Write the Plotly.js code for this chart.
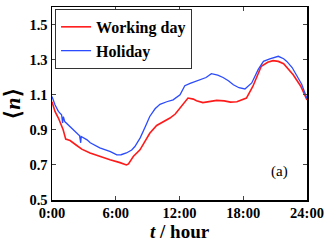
<!DOCTYPE html>
<html><head><meta charset="utf-8">
<script src="https://cdn.plot.ly/plotly-3.0.1.min.js"></script>
<style>html,body{margin:0;padding:0;background:#fff;}#chart{width:327px;height:242px;}</style>
</head><body><div id="chart"></div>
<script>
// Working day: hour of day, mean <n>
const workHours = [0,0.28,0.6,0.9,1.05,1.29,1.7,2.3,2.8,3.58,4.5,5.46,6.4,7.0,7.2,7.65,8.28,8.75,9.2,9.85,10.5,11.1,11.6,12.05,12.5,12.8,13.3,13.6,14.2,14.8,15.5,16.2,16.8,17.4,18.3,18.9,19.7,20.3,20.8,21.3,21.8,22.7,23.4,24];
const workValues = [1.06,1.005,0.967,0.929,0.9,0.847,0.839,0.812,0.79,0.768,0.748,0.729,0.713,0.700,0.706,0.748,0.786,0.83,0.88,0.925,0.945,0.967,0.99,1.025,1.06,1.081,1.075,1.066,1.055,1.06,1.068,1.065,1.058,1.06,1.081,1.147,1.262,1.285,1.294,1.29,1.277,1.214,1.15,1.07];
// Holiday
const holiHours = [0,0.28,0.6,0.9,1.0,1.07,1.2,1.7,2.2,2.6,2.7,2.75,3.3,3.6,4.5,5.5,6.1,6.5,7.0,7.5,7.8,8.3,8.8,9.2,9.7,10.16,10.8,11.4,12.05,12.5,13.0,13.9,14.5,15.0,15.6,16.1,16.6,17.07,17.6,18.16,18.8,19.4,19.9,20.5,21.3,21.8,22.1,22.6,23.0,23.5,24];
const holiValues = [1.09,1.043,1.005,0.986,0.94,0.975,0.947,0.919,0.89,0.866,0.826,0.862,0.843,0.826,0.797,0.776,0.757,0.758,0.768,0.785,0.805,0.854,0.92,0.976,1.02,1.045,1.06,1.071,1.10,1.151,1.165,1.186,1.198,1.22,1.212,1.198,1.18,1.157,1.14,1.133,1.167,1.243,1.29,1.304,1.319,1.305,1.29,1.255,1.214,1.16,1.078];
const seriesNames = ['Working day','Holiday'];
const xTickVals = [0,6,12,18,24];
const xTickText = ['0:00','6:00','12:00','18:00','24:00'];
const yTickVals = [0.5,0.7,0.9,1.1,1.3,1.5];

const serif = 'Times New Roman, Liberation Serif, serif';
const traces = [
  {x: workHours, y: workValues, name: seriesNames[0], mode:'lines', line:{color:'#ff1a1a', width:1.6}},
  {x: holiHours, y: holiValues, name: seriesNames[1], mode:'lines', line:{color:'#2b4bff', width:1.3}}
];
const layout = {
  width:327, height:242,
  margin:{l:52, r:20, t:7, b:42},
  paper_bgcolor:'#fff', plot_bgcolor:'#fff',
  font:{family:serif, color:'#000'},
  showlegend:true,
  legend:{x:0.012, y:0.99, xanchor:'left', yanchor:'top', bgcolor:'#fff', bordercolor:'#333', borderwidth:1,
    font:{family:serif, size:16, weight:700, color:'#000'}, tracegroupgap:0},
  xaxis:{range:[0,24], tickvals:xTickVals, ticktext:xTickText, ticks:'inside', ticklen:4, tickwidth:1,
    showline:true, linecolor:'#000', linewidth:1.5, mirror:'ticks', showgrid:false, zeroline:false,
    ticklabelstandoff:-1,
    tickfont:{family:serif, size:14.5, weight:700}},
  yaxis:{range:[0.5,1.6], tickvals:yTickVals, ticks:'inside', ticklen:4, tickwidth:1,
    showline:true, linecolor:'#000', linewidth:1.5, mirror:'ticks', showgrid:false, zeroline:false,
    tickfont:{family:serif, size:14.5, weight:700},
    title:{text:'⟨<i>n</i>⟩', font:{family:serif, size:22, weight:700}, standoff:4}},
  annotations:[
    {text:'<i>t</i> / hour', xref:'paper', yref:'paper', x:0.5, y:-0.165, yanchor:'middle', showarrow:false,
      font:{family:serif, size:19, weight:700, color:'#000'}},
    {text:'(a)', xref:'paper', yref:'paper', x:0.933, y:0.093, showarrow:false,
    font:{family:serif, size:15, color:'#000'}}]
};
Plotly.newPlot('chart', traces, layout, {displayModeBar:false, staticPlot:true});
</script></body></html>
